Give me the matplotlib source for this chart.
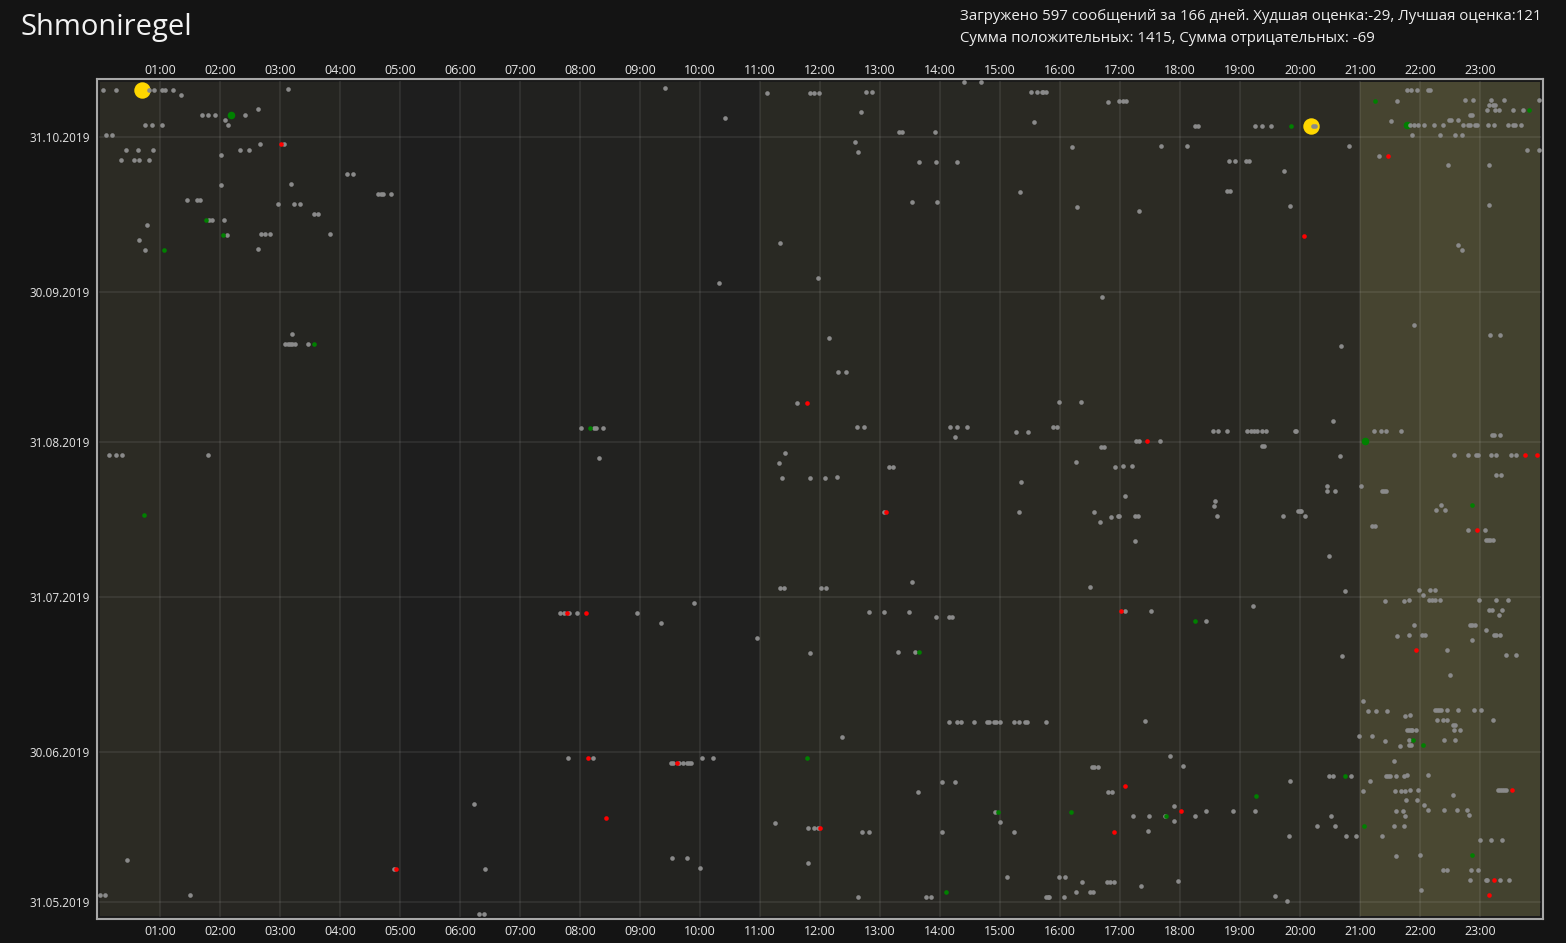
import datetime as dt
import matplotlib
matplotlib.use("Agg")
import matplotlib.pyplot as plt
from matplotlib.colors import to_rgb
from matplotlib.transforms import ScaledTranslation

plt.rcParams["font.family"] = ["Open Sans", "DejaVu Sans"]

# Day index 0 = 28.05.2019, values = minutes after midnight
start_date = dt.date(2019, 5, 28)
row_shift_min = 480

gray_rows = [
    (166, [864, 881]),
    (165, [3, 16, 49, 54, 62, 65, 73, 188, 565]),
    (164, [81, 667, 710, 714, 719, 766, 772, 931, 937, 942, 943, 946, 1307, 1311, 1317, 1328, 1330]),
    (162, [1008, 1019, 1023, 1026, 1297, 1365, 1373, 1391, 1404, 1439]),
    (161, [158, 1389, 1393, 1395]),
    (160, [102, 108, 115, 145, 761, 1387, 1395, 1399, 1413, 1423]),
    (159, [125, 625, 1370, 1372]),
    (158, [45, 52, 62, 128, 934, 1291, 1349, 1351, 1358]),
    (157, [1095, 1098, 1155, 1162, 1171, 1213, 1215, 1310, 1314, 1318, 1324, 1334, 1343,
           1363, 1368, 1370, 1375, 1377, 1388, 1394, 1408, 1413, 1415, 1421]),
    (156, [6, 12, 799, 802, 835]),
    (155, [1312, 1340, 1355, 1362]),
    (154, [160, 184, 755]),
    (153, [26, 38, 53, 140, 149, 972, 1061, 1087, 1249]),
    (152, [121, 758, 1427, 1439]),
    (151, [21, 34, 39, 49, 1279]),
    (150, [819, 836, 857, 1129, 1135, 1146, 1149]),
    (149, [1348, 1389]),
    (148, [247, 253, 1184]),
    (146, [121, 191]),
    (144, [278, 281, 283, 291, 920, 1127, 1130]),
    (143, [87, 97, 100]),
    (142, [178, 194, 200, 812, 837]),
    (141, [977, 1190, 1389]),
    (140, [214, 218, 1039]),
    (139, [109, 112, 124]),
    (138, [47]),
    (136, [127, 161, 165, 170, 230]),
    (135, [39]),
    (134, [680]),
    (133, [45, 158, 1358]),
    (132, [1362]),
    (127, [718]),
    (126, [619]),
    (123, [1002]),
    (117, [1314]),
    (116, [192]),
    (115, [729, 1390, 1400]),
    (114, [185, 188, 190, 192, 195, 208]),
    (113, [1241]),
    (108, [738, 746]),
    (102, [697, 959, 981]),
    (98, [1233]),
    (97, [481, 494, 496, 503, 757, 764, 850, 857, 867, 953, 957]),
    (96, [916, 928, 1113, 1118, 1127, 1147, 1151, 1154, 1157, 1162, 1166, 1195, 1196,
          1274, 1281, 1286, 1301]),
    (95, [855, 1392, 1394, 1400]),
    (94, [1036, 1039, 1060]),
    (93, [1001, 1004, 1162, 1164]),
    (92, [9, 16, 22, 108, 685]),
    (91, [499, 1240, 1354, 1368, 1376, 1378, 1391, 1396, 1411, 1416]),
    (90, [679, 976]),
    (89, [789, 793, 1015, 1023, 1032]),
    (87, [682, 710, 725, 737, 1396, 1401]),
    (86, [921]),
    (85, [1227, 1261]),
    (84, [1227, 1235, 1282, 1284, 1286]),
    (83, [1025]),
    (82, [1115]),
    (81, [1114, 1341]),
    (80, [784, 919, 994, 1198, 1200, 1201, 1336, 1345]),
    (79, [1011, 1018, 1019, 1035, 1038, 1117, 1183, 1205]),
    (78, [1000]),
    (77, [1272, 1275]),
    (76, [1368, 1385]),
    (74, [1035, 1386, 1388, 1390, 1393]),
    (71, [1229]),
    (66, [812]),
    (65, [680, 684, 721, 726, 990]),
    (64, [1245, 1319, 1330, 1335]),
    (63, [1323]),
    (62, [594, 1285, 1304, 1309, 1329, 1332, 1335, 1340, 1379, 1396, 1408]),
    (61, [1153]),
    (60, [460, 464, 469, 477, 537, 769, 784, 809, 1025, 1051, 1389, 1392, 1402]),
    (59, [836, 849, 852, 1399]),
    (58, [561, 1106]),
    (57, [1314, 1370, 1372, 1375]),
    (56, [1386]),
    (55, [657, 1297, 1309, 1322, 1325, 1394, 1396, 1400]),
    (54, [1372]),
    (52, [710, 798, 815, 1347]),
    (51, [1242, 1406, 1416]),
    (47, [1350]),
    (42, [1263]),
    (40, [1268, 1276, 1287, 1335, 1337, 1339, 1341, 1347, 1358, 1374, 1381]),
    (39, [1305, 1310]),
    (38, [849, 857, 861, 874, 887, 889, 894, 896, 900, 914, 919, 925, 927, 946,
          1045, 1337, 1343, 1347, 1393]),
    (37, [1353, 1355]),
    (36, [1307, 1309, 1311, 1312, 1316, 1354, 1360]),
    (35, [742, 1259, 1272]),
    (34, [1285, 1309, 1344, 1355]),
    (33, [1300, 1309, 1311]),
    (31, [468, 493, 602, 613, 1070]),
    (30, [571, 573, 579, 583, 587, 589, 591, 1294]),
    (29, [992, 994, 998, 1083]),
    (27, [1229, 1233, 1251, 1286, 1288, 1290, 1296, 1304, 1307, 1328]),
    (26, [842, 855, 1190, 1270]),
    (24, [818, 1008, 1012, 1263, 1295, 1301, 1305, 1310, 1318, 1398, 1400, 1402, 1404, 1406]),
    (23, [1353]),
    (22, [374, 1306, 1317]),
    (21, [1074, 1324]),
    (20, [895, 1106, 1133, 1155, 1296, 1303, 1328, 1344, 1357, 1367]),
    (19, [1033, 1049, 1065, 1095, 1231, 1305, 1369]),
    (18, [675, 900, 1074]),
    (17, [708, 714, 718, 1217, 1235, 1294, 1304]),
    (16, [762, 769, 842, 914, 1048]),
    (15, [1189, 1246, 1256, 1282]),
    (14, [1380, 1391, 1402]),
    (11, [27, 572, 587, 1296, 1320]),
    (10, [708]),
    (9, [294, 385, 600]),
    (8, [1343, 1347, 1371, 1378]),
    (7, [907, 959, 965]),
    (6, [982, 1007, 1010, 1014, 1078, 1370, 1386, 1387, 1400, 1409]),
    (5, [1041]),
    (4, [0, 5, 90, 976, 990, 993, 1321]),
    (3, [758, 826, 831, 946, 948, 949, 964, 1175]),
    (2, [1187]),
    (0, [379, 384]),
]

green_rows = [
    (162, [1275]), (160, [1429]), (157, [1191]), (139, [106]), (136, [123]),
    (133, [64]), (114, [214]), (97, [490]), (81, [1372]), (80, [44]),
    (58, [1095]), (52, [819]), (34, [1313]), (33, [1323]), (31, [707]),
    (27, [1245]), (23, [1156]), (20, [898, 971]), (19, [1066]), (17, [1264]),
    (11, [1372]), (4, [846]),
]

big_green_rows = [(160, [131]), (157, [1307]), (94, [1265])]

red_rows = [
    (154, [181]), (151, [1288]), (135, [1204]), (102, [707]), (94, [1047]),
    (91, [1425, 1437]), (80, [786]), (76, [1377]), (60, [467, 486, 1021]),
    (52, [1316]), (31, [488]), (30, [577]), (25, [1025]), (24, [1412]),
    (20, [1081]), (19, [506]), (17, [720]), (16, [1014]), (9, [296]),
    (6, [1394]), (3, [1389]),
]

best_rows = [(165, [42]), (157, [1211])]

# how busy each hour of the day is (0..1), shades the hour columns
hour_activity = [0.32, 0.2, 0.2, 0.16, 0.09, 0.0, 0.05, 0.07, 0.09, 0.11, 0.05, 0.25,
                 0.25, 0.2, 0.23, 0.27, 0.36, 0.32, 0.22, 0.3, 0.32, 0.9, 1.0, 0.85]

tick_dates = [dt.date(2019, 5, 31), dt.date(2019, 6, 30), dt.date(2019, 7, 31),
              dt.date(2019, 8, 31), dt.date(2019, 9, 30), dt.date(2019, 10, 31)]

title = "Shmoniregel"
info_lines = [
    "Загружено 597 сообщений за 166 дней. Худшая оценка:-29, Лучшая оценка:121",
    "Сумма положительных: 1415, Сумма отрицательных: -69",
]


def to_xy(rows):
    xs, ys = [], []
    for day, minutes in rows:
        for m in minutes:
            xs.append(m / 60)
            ys.append(day + (m + row_shift_min) / 1440)
    return xs, ys


def shade(v):
    lo = to_rgb("#1e1e1e")
    hi = to_rgb("#4a4832")
    return tuple(a + (b - a) * v for a, b in zip(lo, hi))


W, H = 1566, 943
fig = plt.figure(figsize=(W / 100, H / 100), dpi=100, facecolor="#141414")
ax = fig.add_axes([97 / W, (H - 919) / H, (1543 - 97) / W, (919 - 79) / H])
ax.set_facecolor("#1a1a1a")

ax.set_xlim(-0.05, 24.05)
ax.set_ylim(-0.46, 167.54)
iy = 3 / 840
ix = 3 / 1446

# hour columns and grid
for h in range(24):
    ax.axvspan(h, h + 1, ymin=iy, ymax=1 - iy, color=shade(hour_activity[h]), lw=0, zorder=0)
for h in range(1, 24):
    ax.axvline(h, ymin=iy, ymax=1 - iy, color="white", alpha=0.07, lw=1.5, zorder=1)

tick_pos = [(d - start_date).days for d in tick_dates]
for y in tick_pos:
    ax.axhline(y, xmin=ix, xmax=1 - ix, color="white", alpha=0.07, lw=1.5, zorder=1)

# messages
x, y = to_xy(best_rows)
ax.scatter(x, y, s=140, color="#ffd700", lw=0, zorder=2)
x, y = to_xy(big_green_rows)
ax.scatter(x, y, s=30, color="#008000", lw=0, zorder=3)
x, y = to_xy(gray_rows)
ax.scatter(x, y, s=11, color="#8a8a8a", lw=0, zorder=4)
x, y = to_xy(green_rows)
ax.scatter(x, y, s=11, color="#008000", lw=0, zorder=5)
x, y = to_xy(red_rows)
ax.scatter(x, y, s=11, color="#ff0000", lw=0, zorder=5)

ax.set_xticks(range(1, 24))
ax.set_xticklabels([f"{h:02d}:00" for h in range(1, 24)])
ax.set_yticks(tick_pos)
ax.set_yticklabels([d.strftime("%d.%m.%Y") for d in tick_dates])
ax.tick_params(axis="x", top=True, labeltop=True, length=0, labelsize=9, colors="#e6e6e6", pad=4)
ax.tick_params(axis="y", length=0, labelsize=8.5, colors="#e6e6e6", pad=5)

# top hour labels sit a bit closer to the frame
shift_down = ScaledTranslation(0, -4 / 100, fig.dpi_scale_trans)
for t in ax.xaxis.get_major_ticks():
    t.label2.set_transform(t.label2.get_transform() + shift_down)

for s in ax.spines.values():
    s.set_color("#a8a8a8")
    s.set_linewidth(1.5)

fig.text(20 / W, 1 - 27 / H, title, fontsize=21, color="#f2f2f2", va="center", ha="left")
fig.text(960 / W, 1 - 17 / H, info_lines[0], fontsize=10.8, color="#eeeeee", va="center", ha="left")
fig.text(960 / W, 1 - 39 / H, info_lines[1], fontsize=10.8, color="#eeeeee", va="center", ha="left")

fig.savefig("out.png", dpi=100, facecolor=fig.get_facecolor())
